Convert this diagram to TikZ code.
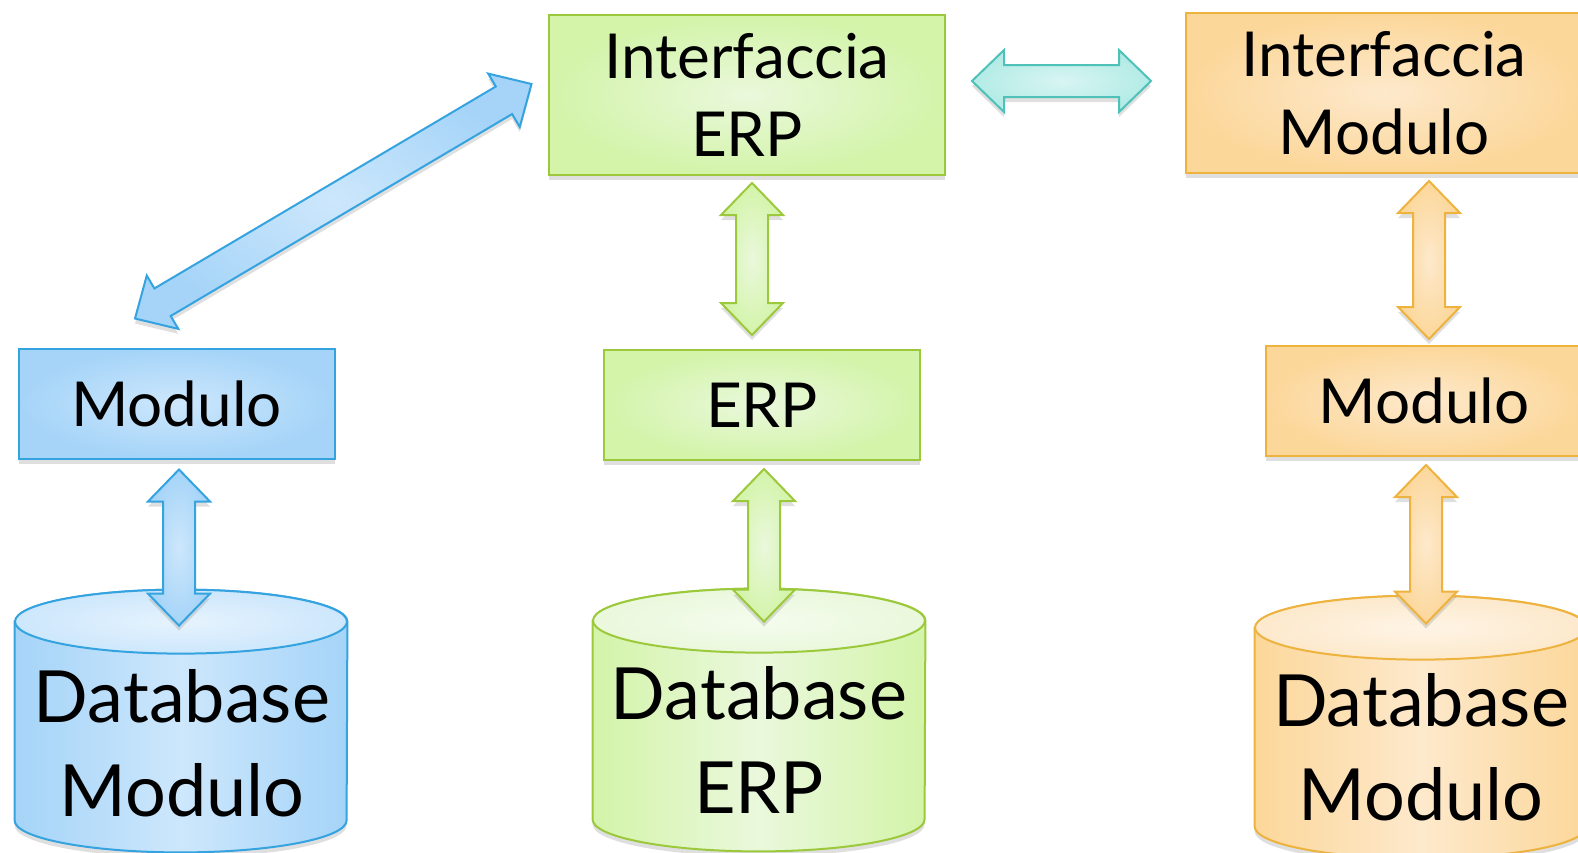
\documentclass[tikz,border=0pt]{standalone}
\usepackage{fontspec}
\setmainfont{Lato}
\usetikzlibrary{calc,shadows}

\definecolor{bluedge}{HTML}{34A3DF}
\definecolor{bluein}{HTML}{CDE7FC}
\definecolor{blueout}{HTML}{A5D4F8}
\definecolor{greenedge}{HTML}{9CC93C}
\definecolor{greenin}{HTML}{EAF8DC}
\definecolor{greenout}{HTML}{D3F4A9}
\definecolor{orangeedge}{HTML}{EDB33E}
\definecolor{orangein}{HTML}{FDE9CC}
\definecolor{orangeout}{HTML}{FCD79A}
\definecolor{tealedge}{HTML}{4EC1B9}
\definecolor{tealin}{HTML}{D8F5F2}
\definecolor{tealout}{HTML}{B3EBE6}

\tikzset{
	softshadow/.style={drop shadow={shadow xshift=0pt, shadow yshift=-2.5pt, opacity=.25}},
	box/.style={draw, line width=1pt, inner sep=0pt, align=center, font=\fontsize{31}{39}\selectfont, softshadow},
	bigbox/.style={box, minimum width=198pt, minimum height=80pt},
	smallbox/.style={box, minimum width=158pt, minimum height=55pt, text depth=-2pt},
	dbbox/.style={inner sep=0pt, minimum width=166pt, minimum height=131pt},
	dbtext/.style={align=center, inner sep=0pt, font=\fontsize{36}{47}\selectfont},
	fat/.style={line width=1pt, line join=miter, softshadow},
	bluepart/.style={draw=bluedge, inner color=bluein, outer color=blueout},
	greenpart/.style={draw=greenedge, inner color=greenin, outer color=greenout},
	orangepart/.style={draw=orangeedge, inner color=orangein, outer color=orangeout},
	tealpart/.style={draw=tealedge, inner color=tealin, outer color=tealout}
}

% fat double arrow from (#2) to (#3)
\def\fatarrow[#1](#2)(#3){%
	\coordinate (fa-p) at (#2);
	\coordinate (fa-q) at (#3);
	\coordinate (fa-a) at ($(fa-p)!16pt!(fa-q)$);
	\coordinate (fa-b) at ($(fa-q)!16pt!(fa-p)$);
	\draw[#1] (fa-p) -- ($(fa-a)!15.5pt!90:(fa-q)$) -- ($(fa-a)!8pt!90:(fa-q)$)
		-- ($(fa-b)!8pt!-90:(fa-p)$) -- ($(fa-b)!15.5pt!-90:(fa-p)$) -- (fa-q)
		-- ($(fa-b)!15.5pt!90:(fa-p)$) -- ($(fa-b)!8pt!90:(fa-p)$)
		-- ($(fa-a)!8pt!-90:(fa-q)$) -- ($(fa-a)!15.5pt!-90:(fa-q)$) -- cycle;}

% cylinder drawn round the node (#1): edge, light, dark colour
\def\dbshape(#1)#2#3#4{%
	\draw[draw=#2, line width=1pt, left color=#4, right color=#4, middle color=#3, softshadow]
		([yshift=-16pt]#1.north west) -- ([yshift=16pt]#1.south west)
		arc[start angle=180, end angle=360, x radius=83pt, y radius=16pt]
		-- ([yshift=-16pt]#1.north east)
		arc[start angle=0, end angle=180, x radius=83pt, y radius=16pt] -- cycle;
	\draw[draw=#2, line width=1pt, inner color=#3!50!white, outer color=#3]
		([yshift=-16pt]#1.north) ellipse[x radius=83pt, y radius=16pt];}

\begin{document}
\begin{tikzpicture}[x=0.5pt,y=-0.5pt]
		%%%%% START %%%%%
		\useasboundingbox (0,0) rectangle (1578,852);
		\clip (0,0) rectangle (1578,852);
		
		\node[bigbox, greenpart] (erpif) at (747,95) {Interfaccia\\ERP};
		\node[bigbox, orangepart] (modif) at (1384,93) {Interfaccia\\Modulo};
		\node[smallbox, greenpart] (erp) at (762,405) {ERP};
		\node[smallbox, bluepart] (bmod) at (176.5,403.5) {Modulo};
		\node[smallbox, orangepart] (omod) at (1424,401) {Modulo};
		
		\node[dbbox] (bdb) at (181,721) {};
		\node[dbbox] (gdb) at (759,720) {};
		\node[dbbox] (odb) at (1421,727) {};
		\dbshape(bdb){bluedge}{bluein}{blueout}
		\dbshape(gdb){greenedge}{greenin}{greenout}
		\dbshape(odb){orangeedge}{orangein}{orangeout}
		\node[dbtext] (bdbtext) at (182,743) {Database\\Modulo};
		\node[dbtext] (gdbtext) at (759,740) {Database\\ERP};
		\node[dbtext] (odbtext) at (1421,747) {Database\\Modulo};
		
		\fatarrow[fat, bluepart]([xshift=-20.75pt,yshift=14.5pt]bmod.north)([xshift=-8.25pt,yshift=5.5pt]erpif.west)
		\fatarrow[fat, bluepart]([xshift=1.25pt,yshift=-5pt]bmod.south)([xshift=-1pt,yshift=-18pt]bdb.north)
		\fatarrow[fat, greenpart]([xshift=2.5pt,yshift=-3.5pt]erpif.south)([xshift=-5pt,yshift=7pt]erp.north)
		\fatarrow[fat, greenpart]([xshift=1pt,yshift=-4pt]erp.south)([xshift=2.5pt,yshift=-16.5pt]gdb.north)
		\fatarrow[fat, tealpart]([xshift=13pt,yshift=7pt]erpif.east)([xshift=-17pt,yshift=6pt]modif.west)
		\fatarrow[fat, orangepart]([xshift=22.5pt,yshift=-3.5pt]modif.south)([xshift=2.5pt,yshift=3pt]omod.north)
		\fatarrow[fat, orangepart]([xshift=1pt,yshift=-4pt]omod.south)([xshift=2.5pt,yshift=-14pt]odb.north)
		
		%%%%% END %%%%%
\end{tikzpicture}
\end{document}
